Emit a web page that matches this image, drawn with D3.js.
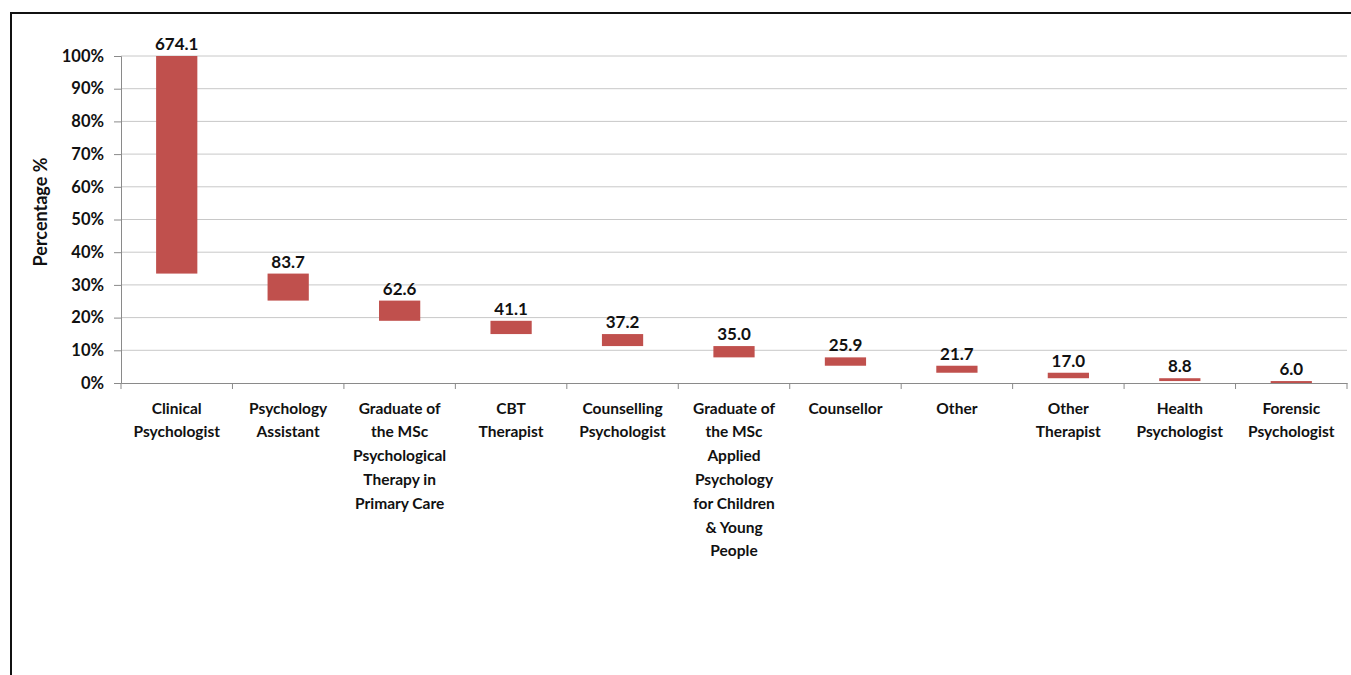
<!DOCTYPE html>
<html>
<head>
<meta charset="utf-8">
<script src="https://cdn.jsdelivr.net/npm/d3@7"></script>
<style>
  body { margin: 0; background: #fff; }
  text { font-family: Lato, "Open Sans", sans-serif; font-weight: bold; fill: #111; }
</style>
</head>
<body>
<script>
const categories = [
  ["Clinical", "Psychologist"],
  ["Psychology", "Assistant"],
  ["Graduate of", "the MSc", "Psychological", "Therapy in", "Primary Care"],
  ["CBT", "Therapist"],
  ["Counselling", "Psychologist"],
  ["Graduate of", "the MSc", "Applied", "Psychology", "for Children", "& Young", "People"],
  ["Counsellor"],
  ["Other"],
  ["Other", "Therapist"],
  ["Health", "Psychologist"],
  ["Forensic", "Psychologist"]
];
const values = [674.1, 83.7, 62.6, 41.1, 37.2, 35.0, 25.9, 21.7, 17.0, 8.8, 6.0];
const yTicks = [0, 10, 20, 30, 40, 50, 60, 70, 80, 90, 100];

const width = 1351, height = 675;
const plotLeft = 121, plotRight = 1347, plotTop = 56, plotBottom = 383;

// floating bars: each one starts where the previous one ended (share of total)
const total = d3.sum(values);
let run = 100;
const bars = values.map((v, i) => {
  const hi = run;
  run -= v / total * 100;
  return { i: i, v: v, hi: hi, lo: Math.max(run, 0) };
});

const svg = d3.select("body").append("svg")
  .attr("width", width)
  .attr("height", height);

// outer frame
svg.append("rect")
  .attr("x", 11).attr("y", 13)
  .attr("width", width).attr("height", height)
  .attr("fill", "none")
  .attr("stroke", "#111")
  .attr("stroke-width", 2);

const x = d3.scaleBand().domain(d3.range(categories.length)).range([plotLeft, plotRight]).paddingInner(0.63).paddingOuter(0.315);
const xTicks = d3.scaleBand().domain(d3.range(categories.length)).range([plotLeft, plotRight]);
const y = d3.scaleLinear().domain([0, 100]).range([plotBottom, plotTop]);

// gridlines
svg.selectAll("line.grid").data(yTicks.slice(1))
  .enter().append("line")
    .attr("class", "grid")
    .attr("x1", plotLeft).attr("x2", plotRight)
    .attr("y1", d => y(d)).attr("y2", d => y(d))
    .attr("stroke", "#c8c8c8")
    .attr("stroke-width", 1);

// y axis
const yAxis = svg.append("g")
  .attr("transform", `translate(${plotLeft},0)`)
  .call(d3.axisLeft(y).tickValues(yTicks).tickFormat(d => d + "%").tickSize(7).tickPadding(10));
yAxis.selectAll("path, line").attr("stroke", "#8a8a8a");
yAxis.selectAll("text").style("font-size", "16.5px").attr("fill", "#111").attr("font-family", null);

// x axis
const xAxis = svg.append("g")
  .attr("transform", `translate(0,${plotBottom})`)
  .call(d3.axisBottom(xTicks).tickFormat("").tickSize(0));
xAxis.select("path").attr("stroke", "#8a8a8a");
svg.selectAll("line.xtick").data(d3.range(categories.length + 1))
  .enter().append("line")
    .attr("class", "xtick")
    .attr("x1", d => plotLeft + d * xTicks.step()).attr("x2", d => plotLeft + d * xTicks.step())
    .attr("y1", plotBottom).attr("y2", plotBottom + 6)
    .attr("stroke", "#8a8a8a");

// category labels
const cat = svg.selectAll("text.cat").data(categories)
  .enter().append("text")
    .attr("class", "cat")
    .attr("text-anchor", "middle")
    .style("font-size", "15.5px");
cat.selectAll("tspan").data((d, i) => d.map(t => ({ t: t, i: i })))
  .enter().append("tspan")
    .attr("x", d => xTicks(d.i) + xTicks.bandwidth() / 2)
    .attr("y", (d, j) => 413.5 + j * 23.8)
    .text(d => d.t);

// bars
svg.selectAll("rect.bar").data(bars)
  .enter().append("rect")
    .attr("class", "bar")
    .attr("x", d => x(d.i))
    .attr("width", x.bandwidth())
    .attr("y", d => y(d.hi))
    .attr("height", d => y(d.lo) - y(d.hi))
    .attr("fill", "#c0504d");

// value labels
svg.selectAll("text.val").data(bars)
  .enter().append("text")
    .attr("class", "val")
    .attr("text-anchor", "middle")
    .attr("x", d => x(d.i) + x.bandwidth() / 2)
    .attr("y", d => y(d.hi) - 6)
    .style("font-size", "17px")
    .text(d => d.v.toFixed(1));

// y title
svg.append("text")
  .attr("transform", "translate(47,212) rotate(-90)")
  .attr("text-anchor", "middle")
  .style("font-size", "18px")
  .text("Percentage %");
</script>
</body>
</html>
